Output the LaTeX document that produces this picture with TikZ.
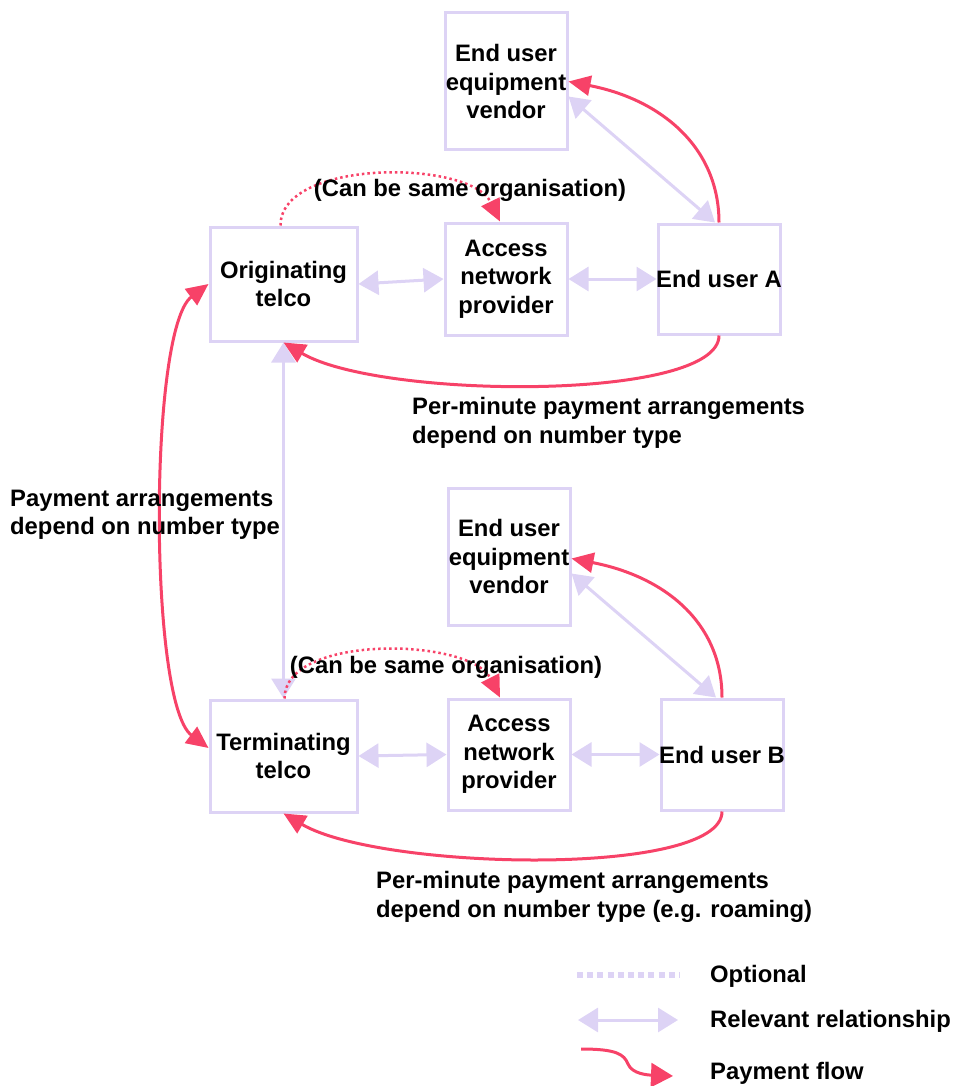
\documentclass[tikz,border=0pt]{standalone}
\usepackage{fontspec}
\setmainfont{Liberation Sans}
\usetikzlibrary{arrows.meta}
\definecolor{lav}{RGB}{221,211,245}
\definecolor{payred}{RGB}{247,66,104}
\begin{document}
\begin{tikzpicture}[x=1pt,y=-1pt,
  every node/.style={font=\fontsize{23.8}{28.5}\selectfont\bfseries, inner sep=0pt},
  box/.style={draw=lav, line width=3pt, align=center},
  rel/.style={draw=lav, line width=3pt, {Triangle[length=20pt,width=24pt]}-{Triangle[length=20pt,width=24pt]}},
  pay/.style={draw=payred, line width=3pt, -{Triangle[length=22pt,width=20pt]}},
  paytwo/.style={draw=payred, line width=3pt, {Triangle[length=22pt,width=20pt]}-{Triangle[length=22pt,width=20pt]}},
  opt/.style={draw=payred, line width=2.5pt, dash pattern=on 2.5pt off 3pt, -{Triangle[length=22pt,width=20pt]}},
  note/.style={align=left, anchor=west}]
\useasboundingbox (0,0) rectangle (957,1086);

% upper half
\node[box, minimum width=122pt, minimum height=137pt] (euv1) at (506,81.5) {End user\\equipment\\vendor};
\node[box, minimum width=147pt, minimum height=114pt] (orig) at (283.5,284) {Originating\\telco};
\node[box, minimum width=122pt, minimum height=112pt] (acc1) at (506,279) {Access\\network\\provider};
\node[box, minimum width=122pt, minimum height=110pt] (eua) at (719,279) {};
\node at (eua) {End user A};

% lower half
\node[box, minimum width=122pt, minimum height=137pt] (euv2) at (509,556.5) {End user\\equipment\\vendor};
\node[box, minimum width=147pt, minimum height=112pt] (term) at (283.5,756) {Terminating\\telco};
\node[box, minimum width=122pt, minimum height=111pt] (acc2) at (509,754.5) {Access\\network\\provider};
\node[box, minimum width=122pt, minimum height=111pt] (eub) at (722,754.5) {};
\node at (eub) {End user B};

% relevant relationships
\draw[rel] (orig.east) -- (acc1.west);
\draw[rel] (acc1.east) -- (eua.west);
\draw[rel] ([yshift=-15pt]euv1.east) -- ([xshift=-4pt]eua.north);
\draw[rel] (orig.south) -- (term.north);
\draw[rel] (term.east) -- (acc2.west);
\draw[rel] (acc2.east) -- (eub.west);
\draw[rel] ([yshift=-17pt]euv2.east) -- ([xshift=-6pt]eub.north);

% payment flows
\draw[pay] (eua.north) .. controls +(0,-75) and +(93,18) .. (euv1.east);
\draw[pay] (eua.south) .. controls +(0,66) and +(97,57) .. (orig.south);
\draw[pay] (eub.north) .. controls +(0,-75) and +(93,18) .. ([yshift=-2pt]euv2.east);
\draw[pay] (eub.south) .. controls +(0,66) and +(97,57) .. (term.south);
\draw[paytwo] (orig.west) .. controls +(-60,45) and +(-60,-45) .. ([yshift=8pt]term.west);

% optional links
\draw[opt] ([xshift=-3pt]orig.north) .. controls +(0,-67) and +(-30,-62) .. ([xshift=-6pt]acc1.north);
\draw[opt] ([xshift=1pt]term.north) .. controls +(0,-65) and +(-30,-60) .. ([xshift=-9pt]acc2.north);

% labels
\node (same1) at (470,190) {(Can be same organisation)};
\node (same2) at (446,667) {(Can be same organisation)};
\node[note] (pm1) at (412,423) {Per-minute payment arrangements\\depend on number type};
\node[note] (pm2) at (376,897) {Per-minute payment arrangements\\depend on number type (e.g. roaming)};
\node[note] (pa) at (10,515) {Payment arrangements\\depend on number type};

% legend
\coordinate (l1a) at (577,975);
\coordinate (l1b) at (680,975);
\coordinate (l2a) at (578,1020);
\coordinate (l2b) at (678,1020);
\coordinate (l3a) at (581,1049);
\coordinate (l3b) at (673,1076);
\draw[draw=lav, line width=6pt, dash pattern=on 6pt off 4.2pt] (l1a) -- (l1b);
\draw[rel] (l2a) -- (l2b);
\draw[pay, -{Triangle[length=22pt,width=24pt]}] (l3a) .. controls +(35,0) and +(-4,-10) .. (628,1064)
  .. controls +(4,10) and +(-25,-1) .. (l3b);
\node[note] (lg1) at (710,976) {Optional};
\node[note] (lg2) at (710,1021) {Relevant relationship};
\node[note] (lg3) at (710,1073) {Payment flow};
\end{tikzpicture}
\end{document}
